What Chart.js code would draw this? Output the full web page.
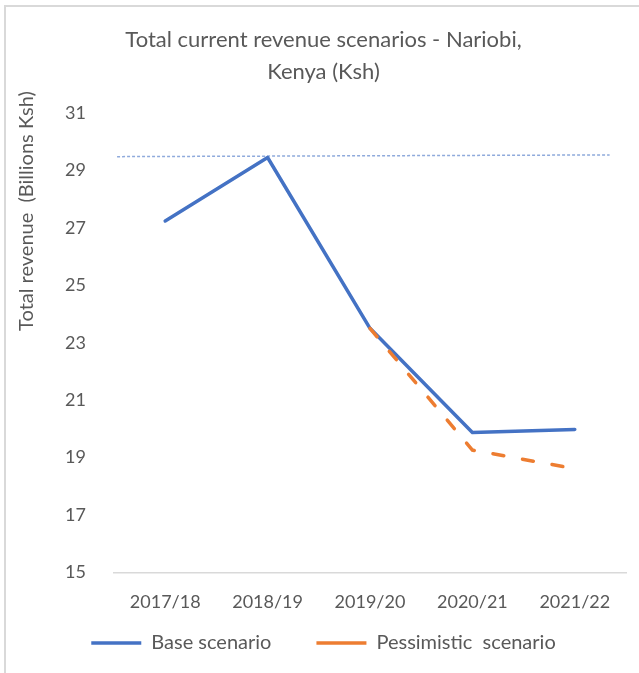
<!DOCTYPE html>
<html lang="en">
<head>
  <meta charset="UTF-8">
  <title>Total current revenue scenarios - Nariobi, Kenya</title>
  <style>
    body {
      margin: 0;
      background-color: #ffffff;
      overflow: hidden;
    }

    .frame {
      position: absolute;
      left: 4px;
      top: 5px;
      width: 640px;
      height: 670px;
      border-left: 2px solid #d9d9d9;
      border-top: 2px solid #d9d9d9;
    }

    .chart-box {
      position: absolute;
      left: 0;
      top: 0;
      width: 639px;
      height: 673px;
    }
  </style>
</head>
<body>
  <div class="frame"></div>
  <div class="chart-box">
    <canvas id="revenue-chart" width="639" height="673"></canvas>
  </div>

  <script src="https://cdn.jsdelivr.net/npm/chart.js"></script>
  <script>
    // Chart data
    const years = ["2017/18", "2018/19", "2019/20", "2020/21", "2021/22"];
    const baseScenario = [27.24, 29.45, 23.5, 19.87, 19.98];
    const pessimisticScenario = [null, null, 23.5, 19.26, 18.61];
    // thin dotted reference line at the peak level (x in category index units)
    const peakLineX = [-0.47, 4.34];
    const peakLineY = [29.48, 29.54];
    const yTicks = [15, 17, 19, 21, 23, 25, 27, 29, 31];

    const textColor = "#595959";
    const fontFamily = "Lato, 'Liberation Sans', sans-serif";

    function toPoints(values) {
      const points = [];
      values.forEach((v, i) => {
        if (v !== null) points.push({ x: i, y: v });
      });
      return points;
    }

    // y axis title, drawn where the original places it
    const yTitlePlugin = {
      id: "yTitle",
      afterDraw(chart) {
        const ctx = chart.ctx;
        ctx.save();
        ctx.translate(27, 211);
        ctx.rotate(-Math.PI / 2);
        ctx.fillStyle = textColor;
        ctx.font = "20px " + fontFamily;
        ctx.textAlign = "center";
        ctx.textBaseline = "middle";
        ctx.fillText("Total revenue  (Billions Ksh)", 0, 0);
        ctx.restore();
      }
    };

    // the legend needs wide gaps between items (padding) but must sit
    // close under the x labels, so stretch its box upwards after layout
    const legendNudge = {
      id: "legendNudge",
      afterLayout(chart) {
        if (chart.legend) {
          chart.legend.top -= 44;
        }
      }
    };

    const ctx = document.getElementById("revenue-chart").getContext("2d");

    new Chart(ctx, {
      type: "line",
      data: {
        datasets: [
          {
            label: "Base scenario",
            data: toPoints(baseScenario),
            borderColor: "#4472c4",
            backgroundColor: "#4472c4",
            borderWidth: 3.5,
            borderCapStyle: "round",
            borderJoinStyle: "round",
            pointRadius: 0,
            tension: 0,
            order: 1
          },
          {
            label: "Pessimistic  scenario",
            data: toPoints(pessimisticScenario),
            borderColor: "#ed7d31",
            backgroundColor: "#ed7d31",
            borderWidth: 3.5,
            borderDash: [11, 19],
            borderCapStyle: "round",
            pointRadius: 0,
            tension: 0,
            order: 0
          },
          {
            label: "peak",
            data: peakLineX.map((x, i) => ({ x: x, y: peakLineY[i] })),
            borderColor: "#8faadc",
            borderWidth: 1.5,
            borderDash: [3, 2],
            pointRadius: 0,
            order: 2
          }
        ]
      },
      options: {
        responsive: false,
        animation: false,
        events: [],
        layout: {
          padding: { top: 6, left: 21, right: 13, bottom: 11 }
        },
        plugins: {
          title: {
            display: true,
            text: ["Total current revenue scenarios - Nariobi,", "Kenya (Ksh)"],
            color: textColor,
            font: { family: fontFamily, size: 22, weight: "normal", lineHeight: 32 / 22 },
            padding: { top: 18, bottom: 25 }
          },
          legend: {
            position: "bottom",
            maxHeight: 30,
            labels: {
              usePointStyle: true,
              pointStyle: "line",
              pointStyleWidth: 50,
              color: textColor,
              font: { family: fontFamily, size: 20 },
              padding: 45,
              filter: (item) => item.datasetIndex < 2,
              sort: (a, b) => a.datasetIndex - b.datasetIndex
            }
          },
          tooltip: { enabled: false }
        },
        scales: {
          x: {
            type: "linear",
            min: -0.5,
            max: 4.5,
            afterBuildTicks: (scale) => {
              scale.ticks = years.map((_, i) => ({ value: i }));
            },
            ticks: {
              color: textColor,
              font: { family: fontFamily, size: 18 },
              padding: 19,
              callback: (value) => years[value]
            },
            grid: { display: false, drawTicks: false },
            border: { display: true, color: "#d9d9d9", width: 1.5 }
          },
          y: {
            min: 15,
            max: 31,
            afterBuildTicks: (scale) => {
              scale.ticks = yTicks.map((v) => ({ value: v }));
            },
            afterFit: (scale) => {
              scale.width = 93;
            },
            ticks: {
              color: textColor,
              font: { family: fontFamily, size: 18 },
              padding: 28
            },
            grid: { display: false, drawTicks: false },
            border: { display: false }
          }
        }
      },
      plugins: [yTitlePlugin, legendNudge]
    });
  </script>
</body>
</html>
